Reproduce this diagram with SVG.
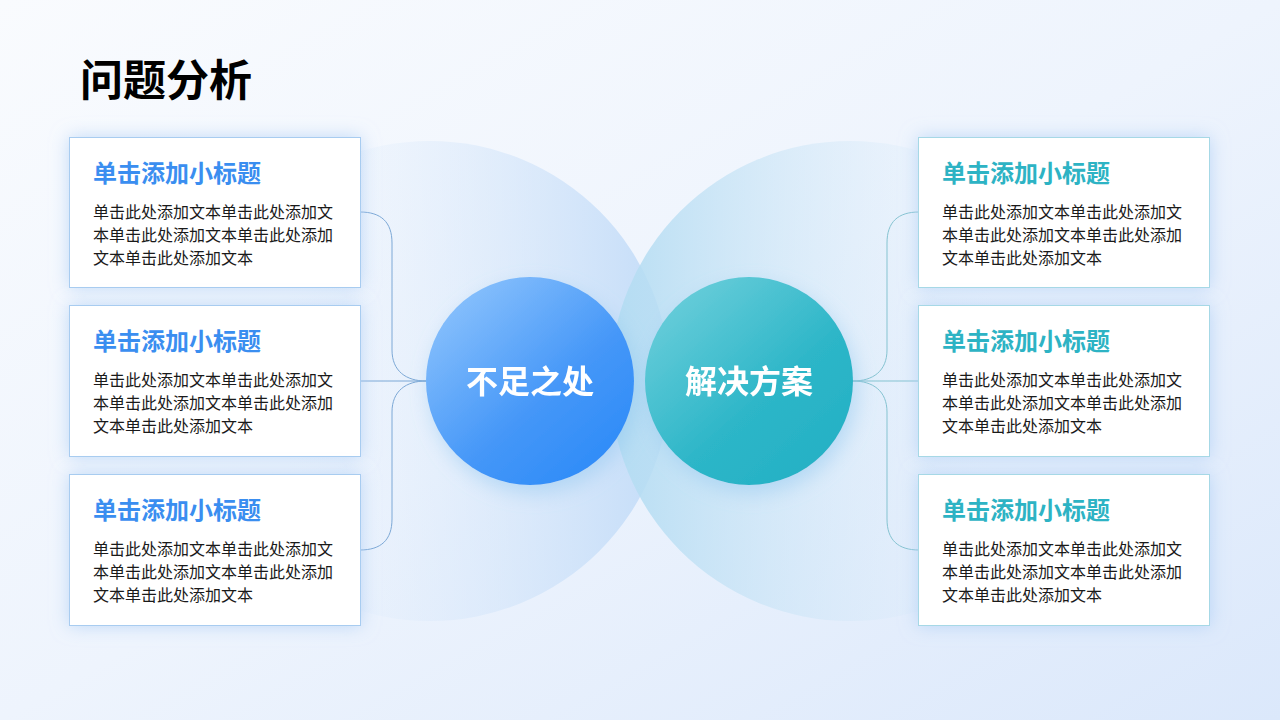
<svg xmlns="http://www.w3.org/2000/svg" width="1280" height="720" viewBox="0 0 1280 720">
  <defs>
    <linearGradient id="bg" x1="0" y1="0" x2="1" y2="1">
      <stop offset="0" stop-color="#f9fbfe"/>
      <stop offset="0.5" stop-color="#eef4fd"/>
      <stop offset="1" stop-color="#dbe8fb"/>
    </linearGradient>
    <linearGradient id="bigL" x1="0" y1="0" x2="1" y2="0">
      <stop offset="0.2" stop-color="#e3eefc" stop-opacity="0"/>
      <stop offset="1" stop-color="#c3dcf8" stop-opacity="1"/>
    </linearGradient>
    <linearGradient id="bigR" x1="0" y1="0" x2="1" y2="0">
      <stop offset="0" stop-color="#b3dcf2" stop-opacity="0.95"/>
      <stop offset="0.8" stop-color="#dcebfa" stop-opacity="0"/>
    </linearGradient>
    <linearGradient id="blueC" x1="0.15" y1="0.1" x2="0.85" y2="0.9">
      <stop offset="0" stop-color="#86bffc"/>
      <stop offset="0.6" stop-color="#4597f8"/>
      <stop offset="1" stop-color="#2f8cf8"/>
    </linearGradient>
    <linearGradient id="tealC" x1="0.15" y1="0.1" x2="0.85" y2="0.9">
      <stop offset="0" stop-color="#66ccd9"/>
      <stop offset="0.6" stop-color="#2db6c8"/>
      <stop offset="1" stop-color="#25b1c5"/>
    </linearGradient>
    <filter id="glow" x="-30%" y="-30%" width="160%" height="160%">
      <feGaussianBlur in="SourceAlpha" stdDeviation="10" result="b"/>
      <feOffset dx="4" dy="8" in="b" result="o"/>
      <feFlood flood-color="#8ec6ef" flood-opacity="0.5"/>
      <feComposite operator="in" in2="o"/>
      <feMerge><feMergeNode/><feMergeNode in="SourceGraphic"/></feMerge>
    </filter>
    <filter id="cshadow" x="-20%" y="-30%" width="140%" height="160%">
      <feGaussianBlur in="SourceAlpha" stdDeviation="9" result="b"/>
      <feFlood flood-color="#a9cbf4" flood-opacity="0.7"/>
      <feComposite operator="in" in2="b"/>
      <feMerge><feMergeNode/><feMergeNode in="SourceGraphic"/></feMerge>
    </filter>
  </defs>
  <style>
    .title{font-family:"Noto Sans CJK SC","Liberation Sans",sans-serif;font-weight:700;font-size:43px;fill:#000}
    .card{fill:#fff;filter:url(#cshadow)}
    .cardL{stroke:#a8ccf0;stroke-width:1}
    .cardR{stroke:#a6d8e6;stroke-width:1}
    .h{font-family:"Noto Sans CJK SC","Liberation Sans",sans-serif;font-weight:700;font-size:24px}
    .hL{fill:#3a8ef0}
    .hR{fill:#2db3c4}
    .b{font-family:"Noto Sans CJK SC","Liberation Sans",sans-serif;font-size:16px;fill:#1a1a1a}
    .ctext{font-family:"Noto Sans CJK SC","Liberation Sans",sans-serif;font-weight:700;font-size:32px;fill:#fff}
    .conL{fill:none;stroke:#7ca8d6;stroke-width:1}
    .conR{fill:none;stroke:#85c3d1;stroke-width:1}
  </style>

  <rect x="0" y="0" width="1280" height="720" fill="url(#bg)"/>

  <g id="bigCircles">
    <circle cx="430" cy="381" r="240" fill="url(#bigL)"/>
    <circle cx="850" cy="381" r="240" fill="url(#bigR)"/>
  </g>

  <text class="title" x="80" y="96">问题分析</text>

  <g id="connectors">
    <path class="conL" d="M426,381 C406,381 392,371 392,350 L392,243 C392,222 381,212 360,212"/>
    <path class="conL" d="M426,381 L360,381"/>
    <path class="conL" d="M426,381 C406,381 392,391 392,412 L392,519 C392,540 381,550 360,550"/>
    <path class="conR" d="M853,381 C873,381 887,371 887,350 L887,243 C887,222 898,212 919,212"/>
    <path class="conR" d="M853,381 L919,381"/>
    <path class="conR" d="M853,381 C873,381 887,391 887,412 L887,519 C887,540 898,550 919,550"/>
  </g>

  <g id="node-left-center" filter="url(#glow)">
    <circle cx="530" cy="381" r="104" fill="url(#blueC)"/>
    <text class="ctext" x="530" y="393" text-anchor="middle">不足之处</text>
  </g>
  <g id="node-right-center" filter="url(#glow)">
    <circle cx="749" cy="381" r="104" fill="url(#tealC)"/>
    <text class="ctext" x="749" y="393" text-anchor="middle">解决方案</text>
  </g>

  <g id="card-L1">
    <rect class="card cardL" x="69.5" y="137.5" width="291" height="150"/>
    <text class="h hL" x="93" y="182">单击添加小标题</text>
    <text class="b" x="93" y="218">单击此处添加文本单击此处添加文</text>
    <text class="b" x="93" y="241">本单击此处添加文本单击此处添加</text>
    <text class="b" x="93" y="264">文本单击此处添加文本</text>
  </g>
  <g id="card-L2">
    <rect class="card cardL" x="69.5" y="305.5" width="291" height="151"/>
    <text class="h hL" x="93" y="350">单击添加小标题</text>
    <text class="b" x="93" y="386">单击此处添加文本单击此处添加文</text>
    <text class="b" x="93" y="409">本单击此处添加文本单击此处添加</text>
    <text class="b" x="93" y="432">文本单击此处添加文本</text>
  </g>
  <g id="card-L3">
    <rect class="card cardL" x="69.5" y="474.5" width="291" height="151"/>
    <text class="h hL" x="93" y="519">单击添加小标题</text>
    <text class="b" x="93" y="555">单击此处添加文本单击此处添加文</text>
    <text class="b" x="93" y="578">本单击此处添加文本单击此处添加</text>
    <text class="b" x="93" y="601">文本单击此处添加文本</text>
  </g>

  <g id="card-R1">
    <rect class="card cardR" x="918.5" y="137.5" width="291" height="150"/>
    <text class="h hR" x="942" y="182">单击添加小标题</text>
    <text class="b" x="942" y="218">单击此处添加文本单击此处添加文</text>
    <text class="b" x="942" y="241">本单击此处添加文本单击此处添加</text>
    <text class="b" x="942" y="264">文本单击此处添加文本</text>
  </g>
  <g id="card-R2">
    <rect class="card cardR" x="918.5" y="305.5" width="291" height="151"/>
    <text class="h hR" x="942" y="350">单击添加小标题</text>
    <text class="b" x="942" y="386">单击此处添加文本单击此处添加文</text>
    <text class="b" x="942" y="409">本单击此处添加文本单击此处添加</text>
    <text class="b" x="942" y="432">文本单击此处添加文本</text>
  </g>
  <g id="card-R3">
    <rect class="card cardR" x="918.5" y="474.5" width="291" height="151"/>
    <text class="h hR" x="942" y="519">单击添加小标题</text>
    <text class="b" x="942" y="555">单击此处添加文本单击此处添加文</text>
    <text class="b" x="942" y="578">本单击此处添加文本单击此处添加</text>
    <text class="b" x="942" y="601">文本单击此处添加文本</text>
  </g>
</svg>
